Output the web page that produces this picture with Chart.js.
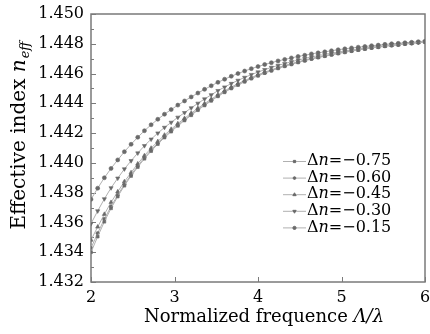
<!DOCTYPE html>
<html><head><meta charset="utf-8">
<script src="https://cdn.jsdelivr.net/npm/chart.js@4.4.0/dist/chart.umd.min.js"></script>
<style>html,body{margin:0;padding:0;background:#fff}#wrap{width:430px;height:334px;position:relative}</style>
</head><body><div id="wrap"><canvas id="c" width="430" height="334"></canvas></div>
<script>
// Normalized frequence Λ/λ
const xValues = [2.00,2.08,2.16,2.24,2.32,2.40,2.48,2.56,2.64,2.72,2.80,2.88,2.96,3.04,3.12,3.20,3.28,3.36,3.44,3.52,3.60,3.68,3.76,3.84,3.92,4.00,4.08,4.16,4.24,4.32,4.40,4.48,4.56,4.64,4.72,4.80,4.88,4.96,5.04,5.12,5.20,5.28,5.36,5.44,5.52,5.60,5.68,5.76,5.84,5.92,6.00];

const seriesDn = ['−0.75','−0.60','−0.45','−0.30','−0.15'];

const neff075 = [1.43400,1.43505,1.43605,1.43695,1.43774,1.43847,1.43912,1.43972,1.44028,1.44079,1.44126,1.44170,1.44210,1.44249,1.44285,1.44320,1.44354,1.44386,1.44417,1.44447,1.44474,1.44500,1.44523,1.44545,1.44566,1.44585,1.44603,1.44619,1.44635,1.44649,1.44662,1.44675,1.44686,1.44698,1.44708,1.44717,1.44726,1.44735,1.44743,1.44751,1.44758,1.44765,1.44772,1.44777,1.44784,1.44789,1.44793,1.44799,1.44803,1.44808,1.44812];
const neff060 = [1.43428,1.43528,1.43623,1.43708,1.43784,1.43856,1.43920,1.43980,1.44036,1.44086,1.44133,1.44176,1.44216,1.44255,1.44290,1.44325,1.44359,1.44390,1.44421,1.44451,1.44478,1.44503,1.44526,1.44548,1.44569,1.44588,1.44605,1.44621,1.44637,1.44651,1.44664,1.44677,1.44688,1.44699,1.44709,1.44718,1.44727,1.44736,1.44744,1.44752,1.44759,1.44766,1.44773,1.44778,1.44784,1.44789,1.44793,1.44799,1.44803,1.44808,1.44812];
const neff045 = [1.43482,1.43570,1.43655,1.43735,1.43806,1.43874,1.43935,1.43994,1.44049,1.44099,1.44144,1.44187,1.44226,1.44264,1.44299,1.44334,1.44367,1.44398,1.44428,1.44457,1.44484,1.44509,1.44532,1.44553,1.44573,1.44592,1.44609,1.44625,1.44641,1.44654,1.44667,1.44679,1.44690,1.44702,1.44711,1.44720,1.44729,1.44738,1.44746,1.44753,1.44760,1.44767,1.44774,1.44779,1.44785,1.44790,1.44794,1.44800,1.44804,1.44809,1.44813];
const neff030 = [1.43592,1.43677,1.43758,1.43832,1.43897,1.43959,1.44014,1.44066,1.44115,1.44159,1.44200,1.44238,1.44272,1.44306,1.44337,1.44369,1.44400,1.44429,1.44457,1.44485,1.44509,1.44533,1.44554,1.44574,1.44593,1.44610,1.44626,1.44641,1.44655,1.44667,1.44679,1.44691,1.44701,1.44712,1.44720,1.44729,1.44737,1.44745,1.44752,1.44759,1.44766,1.44772,1.44778,1.44783,1.44789,1.44793,1.44797,1.44802,1.44806,1.44810,1.44814];
const neff015 = [1.43755,1.43830,1.43900,1.43963,1.44020,1.44075,1.44125,1.44172,1.44216,1.44256,1.44293,1.44327,1.44358,1.44388,1.44416,1.44443,1.44469,1.44494,1.44518,1.44541,1.44562,1.44582,1.44600,1.44617,1.44633,1.44647,1.44661,1.44673,1.44685,1.44695,1.44705,1.44715,1.44723,1.44732,1.44739,1.44746,1.44753,1.44760,1.44766,1.44772,1.44777,1.44782,1.44787,1.44791,1.44796,1.44800,1.44803,1.44807,1.44810,1.44814,1.44817];

const xTicks = [2,3,4,5,6];
const yMin = 1.432, yMax = 1.450, yStep = 0.002;

const seriesValues = [neff075, neff060, neff045, neff030, neff015];
const styles = [
  {pointStyle:'rect', radius:2.0, rot:0},
  {pointStyle:'circle', radius:1.7, rot:0},
  {pointStyle:'triangle', radius:2.4, rot:0},
  {pointStyle:'triangle', radius:2.4, rot:180},
  {pointStyle:'circle', radius:2.0, rot:0}
];

const SERIF = '"DejaVu Serif", "Liberation Serif", serif';
const TXT = '#000';
const FRAME = '#7a7a7a';
const LINE = '#b0b0b0';
const MARK = '#6a6a6a';

const datasets = seriesValues.map((vals, i) => ({
  label: 'Δn=' + seriesDn[i],
  data: xValues.map((x, k) => ({x: x, y: vals[k]})),
  borderColor: LINE,
  borderWidth: 1,
  backgroundColor: MARK,
  pointBackgroundColor: MARK,
  pointBorderColor: MARK,
  pointBorderWidth: 0.6,
  pointStyle: styles[i].pointStyle,
  pointRadius: styles[i].radius,
  pointRotation: styles[i].rot,
  tension: 0,
  fill: false
}));

const decor = {
  id: 'decor',
  beforeDatasetsDraw(chart) {
    const ctx = chart.ctx, a = chart.chartArea;
    const xs = chart.scales.x, ys = chart.scales.y;
    ctx.save();
    ctx.strokeStyle = FRAME;
    ctx.lineWidth = 1.5;
    ctx.strokeRect(a.left, a.top, a.right - a.left, a.bottom - a.top);
    ctx.lineWidth = 1;
    for (let k = 0; k <= Math.round((yMax - yMin) / (yStep / 2)); k++) {
      const v = yMin + k * yStep / 2;
      const py = Math.round(ys.getPixelForValue(v)) + 0.5;
      const major = k % 2 === 0;
      ctx.beginPath();
      ctx.moveTo(a.left, py);
      ctx.lineTo(a.left + (major ? 5 : 3), py);
      ctx.stroke();
    }
    xTicks.forEach(t => {
      const px = Math.round(xs.getPixelForValue(t)) + 0.5;
      ctx.beginPath();
      ctx.moveTo(px, a.bottom);
      ctx.lineTo(px, a.bottom - 5);
      ctx.stroke();
    });
    ctx.restore();
  },
  afterDraw(chart) {
    const ctx = chart.ctx, a = chart.chartArea;
    ctx.save();
    ctx.fillStyle = TXT;
    ctx.textBaseline = 'alphabetic';
    const f1 = '18px ' + SERIF, f2 = 'italic 18px ' + SERIF;
    ctx.font = f1; const w1 = ctx.measureText('Normalized frequence ').width;
    ctx.font = f2; const w2 = ctx.measureText('Λ/λ').width;
    let sx = 264 - (w1 + w2) / 2;
    ctx.font = f1; ctx.fillText('Normalized frequence ', sx, 322);
    ctx.font = f2; ctx.fillText('Λ/λ', sx + w1, 322);
    ctx.translate(25, 136);
    ctx.rotate(-Math.PI / 2);
    const g1 = '20px ' + SERIF, g2 = 'italic 20px ' + SERIF, g3 = 'italic 13px ' + SERIF;
    ctx.font = g1; const v1 = ctx.measureText('Effective index ').width;
    ctx.font = g2; const v2 = ctx.measureText('n').width;
    ctx.font = g3; const v3 = ctx.measureText('eff').width;
    let sy = -(v1 + v2 + v3) / 2;
    ctx.font = g1; ctx.fillText('Effective index ', sy, 0);
    ctx.font = g2; ctx.fillText('n', sy + v1, 0);
    ctx.font = g3; ctx.fillText('eff', sy + v1 + v2 + 1, 4);
    ctx.restore();
    ctx.save();
    const lx0 = 283, lx1 = 306, ly0 = 161, dy = 16.6;
    seriesDn.forEach((lab, i) => {
      const y = ly0 + i * dy;
      ctx.strokeStyle = LINE; ctx.lineWidth = 1;
      ctx.beginPath(); ctx.moveTo(lx0, y + 0.5); ctx.lineTo(lx1, y + 0.5); ctx.stroke();
      ctx.fillStyle = MARK; ctx.strokeStyle = MARK;
      Chart.helpers.drawPoint(ctx, {pointStyle: styles[i].pointStyle, radius: styles[i].radius * 0.8, rotation: styles[i].rot, borderWidth: 0.6}, (lx0 + lx1) / 2, y + 0.5);
      ctx.fillStyle = TXT;
      ctx.textBaseline = 'middle';
      const h1 = '16px ' + SERIF, h2 = 'italic 16px ' + SERIF;
      let tx = lx1 + 1;
      ctx.font = h1; ctx.fillText('Δ', tx, y); tx += ctx.measureText('Δ').width;
      ctx.font = h2; ctx.fillText('n', tx, y); tx += ctx.measureText('n').width;
      ctx.font = h1; ctx.fillText('=' + lab, tx, y);
    });
    ctx.restore();
  }
};

new Chart(document.getElementById('c'), {
  type: 'line',
  data: { datasets },
  options: {
    responsive: false,
    animation: false,
    devicePixelRatio: 1,
    layout: { padding: { top: 14, right: 5, left: 0, bottom: 0 } },
    plugins: { legend: { display: false }, tooltip: { enabled: false } },
    scales: {
      x: {
        type: 'linear', min: 2, max: 6,
        afterBuildTicks: s => { s.ticks = xTicks.map(v => ({value: v})); },
        afterFit: s => { s.height = 52; s.paddingLeft = 0; s.paddingRight = 0; },
        grid: { display: false, drawTicks: false },
        border: { display: false },
        ticks: { color: TXT, font: { family: SERIF, size: 16 }, padding: 6, callback: v => String(v) }
      },
      y: {
        type: 'linear', min: yMin, max: yMax,
        afterFit: s => { s.width = 91; s.paddingTop = 0; s.paddingBottom = 0; },
        grid: { display: false, drawTicks: false },
        border: { display: false },
        ticks: { stepSize: yStep, color: TXT, font: { family: SERIF, size: 16 }, padding: 7, callback: v => v.toFixed(3) }
      }
    }
  },
  plugins: [decor]
});
</script>
</body></html>
